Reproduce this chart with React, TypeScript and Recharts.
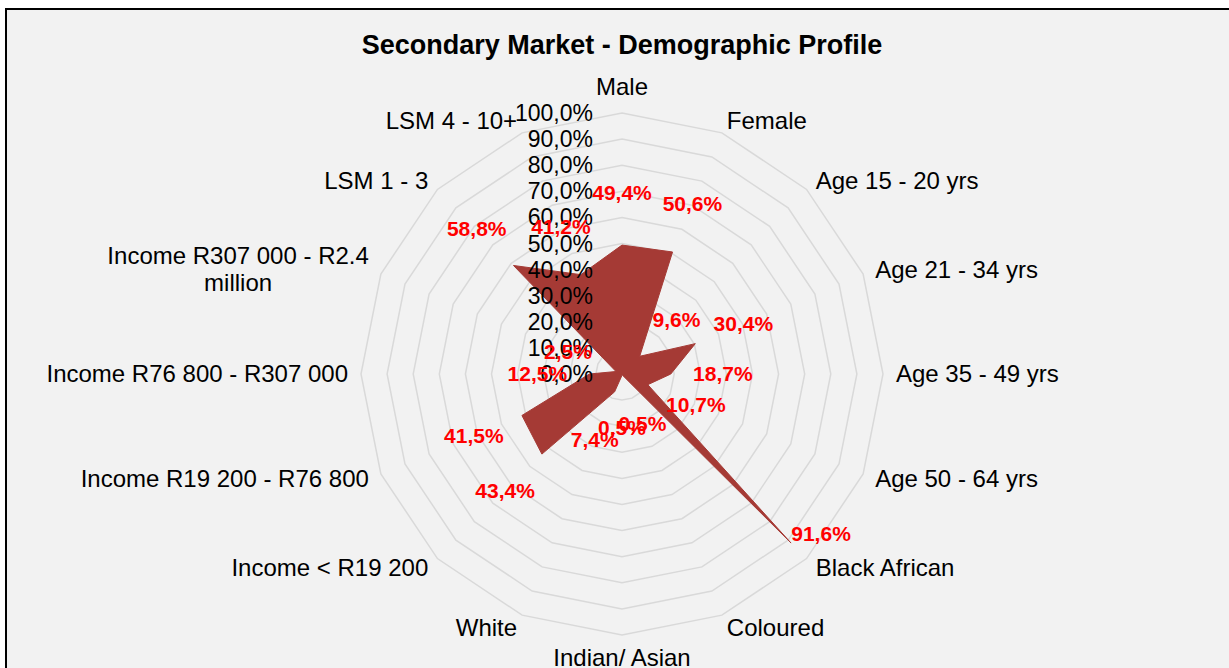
import React from 'react';
import { RadarChart, Radar, PolarGrid, PolarAngleAxis, PolarRadiusAxis } from 'recharts';

const CATEGORIES = [
  'Male', 'Female', 'Age 15 - 20 yrs', 'Age 21 - 34 yrs', 'Age 35 - 49 yrs', 'Age 50 - 64 yrs',
  'Black African', 'Coloured', 'Indian/ Asian', 'White', 'Income < R19 200',
  'Income R19 200 - R76 800', 'Income R76 800 - R307 000', 'Income R307 000 - R2.4 million',
  'LSM 1 - 3', 'LSM 4 - 10+',
];
const SHARE = [49.4, 50.6, 9.6, 30.4, 18.7, 10.7, 91.6, 0.5, 0.5, 7.4, 43.4, 41.5, 12.5, 2.5, 58.8, 41.2];
const TITLE = 'Secondary Market - Demographic Profile';

const data = CATEGORIES.map((name, i) => ({ name, value: SHARE[i] }));

const W = 1229;
const H = 668;
const CX = 622;
const CY = 374;
const R = 261;
const FONT = '"Liberation Sans", Arial, Helvetica, sans-serif';
const CAT_SIZE = 24;

const fmt = (v: number) => v.toFixed(1).replace('.', ',') + '%';

let ctx: CanvasRenderingContext2D | null = null;
const measure = (s: string) => {
  if (!ctx) ctx = document.createElement('canvas').getContext('2d');
  if (!ctx) return s.length * CAT_SIZE * 0.52;
  ctx.font = `${CAT_SIZE}px ${FONT}`;
  return ctx.measureText(s).width;
};

const AngleTick = (props: any) => {
  const { x, y, payload } = props;
  const dx = x - CX;
  const dy = y - CY;
  const len = Math.sqrt(dx * dx + dy * dy) || 1;
  const ux = dx / len;
  const uy = dy / len;
  const px = CX + ux * (R + 13);
  const py = CY + uy * (R + 13);
  const anchor = ux > 0.01 ? 'start' : ux < -0.01 ? 'end' : 'middle';
  const text: string = payload.value;
  let lines = [text];
  if (text.length > 26) {
    const k = text.lastIndexOf(' ');
    lines = [text.slice(0, k), text.slice(k + 1)];
  }
  const lh = 27;
  let centerY = py;
  if (uy < -0.99) centerY = py - 13;
  if (uy > 0.99) centerY = py + 10;
  if (lines.length > 1) {
    const bw = Math.max(...lines.map(measure));
    const mx = anchor === 'end' ? px - bw / 2 : anchor === 'start' ? px + bw / 2 : px;
    const top = centerY - ((lines.length - 1) * lh) / 2;
    return (
      <text x={mx} y={top} textAnchor="middle" fontFamily={FONT} fontSize={CAT_SIZE} fill="#000">
        {lines.map((l, i) => (
          <tspan key={i} x={mx} y={top + i * lh} dy="0.35em">{l}</tspan>
        ))}
      </text>
    );
  }
  return (
    <text x={px} y={centerY} dy="0.35em" textAnchor={anchor} fontFamily={FONT} fontSize={CAT_SIZE} fill="#000">
      {text}
    </text>
  );
};

const RadiusTick = (props: any) => {
  const { x, y, payload } = props;
  return (
    <text x={x - 29} y={y} dy="0.35em" textAnchor="end" fontFamily={FONT} fontSize={23} fill="#000">
      {fmt(Number(payload.value))}
    </text>
  );
};

const ValueLabel = (props: any) => {
  const { cx, cy, index } = props;
  const v = props.value ?? props.payload?.value ?? SHARE[index];
  const dx = cx - CX;
  const dy = cy - CY;
  const r = Math.sqrt(dx * dx + dy * dy);
  const ang = ((index ?? 0) * 2 * Math.PI) / CATEGORIES.length;
  const ux = Math.sin(ang);
  const uy = -Math.cos(ang);
  let lx = cx + ux * 52;
  let ly = cy + uy * 52;
  if (r + 52 > R - 5) {
    lx = cx + 30;
    ly = cy - 9;
  }
  return (
    <text key={`lbl-${index}`} x={lx} y={ly} dy="0.35em" textAnchor="middle" fontFamily={FONT}
      fontSize={21} fontWeight="bold" fill="#ff0000">
      {fmt(Number(v))}
    </text>
  );
};

export default function App() {
  return (
    <div style={{ position: 'absolute', left: 0, top: 0, width: W, height: H, overflow: 'hidden', background: '#fff' }}>
      <div style={{
        position: 'absolute', left: 5, top: 8, width: W + 20, height: H + 20,
        borderLeft: '2px solid #000', borderTop: '2px solid #000', background: '#f2f2f2',
      }} />
      <div style={{
        position: 'absolute', left: CX - 400, top: 30, width: 800, textAlign: 'center',
        fontFamily: FONT, fontWeight: 'bold', fontSize: 27, lineHeight: '30px', color: '#000',
      }}>
        {TITLE}
      </div>
      <div style={{ position: 'absolute', left: 0, top: 0 }}>
        <RadarChart width={W} height={H} data={data} cx={CX} cy={CY} outerRadius={R}
          margin={{ top: 0, right: 0, bottom: 0, left: 0 }}>
          <PolarGrid gridType="polygon" radialLines={false} stroke="#d9d9d9" strokeWidth={1.5} />
          <PolarAngleAxis dataKey="name" tick={AngleTick} tickLine={false} axisLine={false} />
          <Radar dataKey="value" fill="#a53a35" fillOpacity={1} stroke="#a53a35" strokeWidth={1}
            dot={ValueLabel} isAnimationActive={false} />
          <PolarRadiusAxis angle={90} domain={[0, 100]} tickCount={11} tick={RadiusTick}
            axisLine={false} tickLine={false} />
        </RadarChart>
      </div>
    </div>
  );
}
